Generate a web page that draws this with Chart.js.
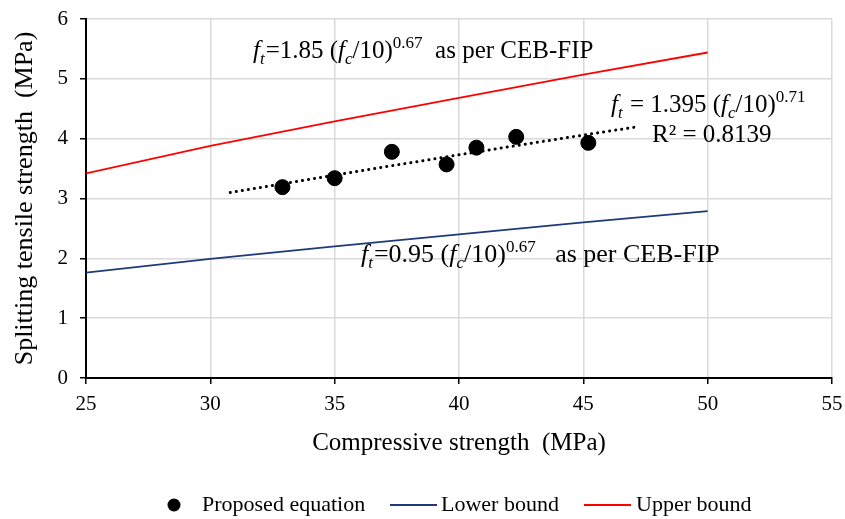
<!DOCTYPE html>
<html>
<head>
<meta charset="utf-8">
<script src="https://cdn.jsdelivr.net/npm/chart.js@4/dist/chart.umd.min.js"></script>
<style>
  html, body { margin: 0; padding: 0; background: #fff; }
  #wrap { width: 845px; height: 519px; }
</style>
</head>
<body>
<div id="wrap"><canvas id="chart"></canvas></div>
<script>
// measured points
const strengthX = [32.9, 35.0, 37.3, 39.5, 40.7, 42.3, 45.2];
const tensileY = [3.19, 3.34, 3.78, 3.57, 3.85, 4.03, 3.93];

// CEB-FIP bounds
const boundX = [25, 30, 35, 40, 45, 50];
const lowerY = [1.76, 1.99, 2.20, 2.40, 2.60, 2.79];
const upperY = [3.42, 3.88, 4.29, 4.68, 5.07, 5.44];

// dotted power trendline
const trendX = [30.8, 35, 40, 45, 47.2];
const trendY = [3.10, 3.39, 3.73, 4.06, 4.20];

const xTicks = [25, 30, 35, 40, 45, 50, 55];
const yTicks = [0, 1, 2, 3, 4, 5, 6];

const FONT = "'Liberation Serif', 'Times New Roman', serif";
const pairs = (xs, ys) => xs.map((x, i) => ({ x, y: ys[i] }));

// draws a run of text pieces: italic, subscript, superscript
function richText(ctx, x, y, parts, size) {
  let cx = x;
  parts.forEach((p) => {
    const small = p.sub || p.sup;
    const fs = small ? Math.round(size * 0.66) : size;
    ctx.font = (p.i ? 'italic ' : '') + fs + 'px ' + FONT;
    let dy = 0;
    if (p.sub) dy = size * 0.24;
    if (p.sup) dy = -size * 0.4;
    ctx.fillText(p.t, cx, y + dy);
    cx += ctx.measureText(p.t).width + (p.gap || 0);
  });
}

const notes = {
  id: 'notes',
  afterDatasetsDraw(chart) {
    const ctx = chart.ctx;
    ctx.save();
    ctx.fillStyle = '#000';
    ctx.textBaseline = 'alphabetic';
    ctx.textAlign = 'left';
    richText(ctx, 253, 58, [
      { t: 'f', i: true }, { t: 't', i: true, sub: true, gap: 1 },
      { t: '=1.85 (' }, { t: 'f', i: true }, { t: 'c', i: true, sub: true },
      { t: '/10)' }, { t: '0.67', sup: true }, { t: '  as per CEB-FIP' }
    ], 25);
    richText(ctx, 361, 262, [
      { t: 'f', i: true }, { t: 't', i: true, sub: true, gap: 1 },
      { t: '=0.95 (' }, { t: 'f', i: true }, { t: 'c', i: true, sub: true },
      { t: '/10)' }, { t: '0.67', sup: true }, { t: '   as per CEB-FIP' }
    ], 26);
    richText(ctx, 611, 112, [
      { t: 'f', i: true }, { t: 't', i: true, sub: true, gap: 1 },
      { t: ' = 1.395 (' }, { t: 'f', i: true }, { t: 'c', i: true, sub: true },
      { t: '/10)' }, { t: '0.71', sup: true }
    ], 25);
    ctx.font = '25px ' + FONT;
    ctx.fillText('R\u00b2 = 0.8139', 652, 142);

    // legend
    ctx.font = '22px ' + FONT;
    ctx.textBaseline = 'middle';
    const ly = 505;
    ctx.beginPath();
    ctx.arc(174, ly, 6.5, 0, Math.PI * 2);
    ctx.fill();
    ctx.fillText('Proposed equation', 202, ly);
    ctx.lineWidth = 2;
    ctx.strokeStyle = '#1f3a78';
    ctx.beginPath(); ctx.moveTo(390, ly); ctx.lineTo(437, ly); ctx.stroke();
    ctx.fillText('Lower bound', 441, ly);
    ctx.strokeStyle = '#ff0000';
    ctx.beginPath(); ctx.moveTo(584, ly); ctx.lineTo(631, ly); ctx.stroke();
    ctx.fillText('Upper bound', 636, ly);
    ctx.restore();
  }
};

new Chart(document.getElementById('chart'), {
  type: 'scatter',
  data: {
    datasets: [
      {
        label: 'Upper bound',
        data: pairs(boundX, upperY),
        showLine: true,
        borderColor: '#ff0000',
        borderWidth: 1.8,
        pointRadius: 0
      },
      {
        label: 'Lower bound',
        data: pairs(boundX, lowerY),
        showLine: true,
        borderColor: '#1f3a78',
        borderWidth: 1.8,
        pointRadius: 0
      },
      {
        label: 'Trend',
        data: pairs(trendX, trendY),
        showLine: true,
        borderColor: '#000',
        borderWidth: 3,
        borderDash: [0.1, 6],
        borderCapStyle: 'round',
        cubicInterpolationMode: 'monotone',
        pointRadius: 0
      },
      {
        label: 'Proposed equation',
        data: pairs(strengthX, tensileY),
        backgroundColor: '#000',
        borderColor: '#000',
        pointRadius: 7.5,
        pointHoverRadius: 7.5
      }
    ]
  },
  options: {
    responsive: true,
    maintainAspectRatio: false,
    animation: false,
    layout: { padding: { left: 0, right: 13, top: 19, bottom: 49 } },
    plugins: {
      legend: { display: false },
      tooltip: { enabled: false }
    },
    scales: {
      x: {
        type: 'linear',
        min: 25,
        max: 55,
        afterBuildTicks: (s) => { s.ticks = xTicks.map((v) => ({ value: v })); },
        afterFit: (s) => {
          s.height = 92;
          s.paddingLeft = 0;
          s.paddingRight = 0;
        },
        grid: { color: '#d9d9d9', lineWidth: 1.5, tickColor: '#000', tickLength: 6 },
        border: { color: '#000', width: 2 },
        ticks: { color: '#000', font: { family: FONT, size: 21 }, padding: 8 },
        title: {
          display: true,
          text: 'Compressive strength  (MPa)',
          color: '#000',
          font: { family: FONT, size: 25 },
          padding: { top: 4, bottom: 12 }
        }
      },
      y: {
        min: 0,
        max: 6,
        afterBuildTicks: (s) => { s.ticks = yTicks.map((v) => ({ value: v })); },
        afterFit: (s) => {
          s.width = 86;
          s.paddingTop = 0;
          s.paddingBottom = 0;
        },
        grid: { color: '#d9d9d9', lineWidth: 1.5, tickColor: '#000', tickLength: 6 },
        border: { color: '#000', width: 2 },
        ticks: { color: '#000', font: { family: FONT, size: 21 }, padding: 12 },
        title: {
          display: true,
          text: 'Splitting tensile strength  (MPa)',
          color: '#000',
          font: { family: FONT, size: 26 },
          padding: { top: 10, bottom: 8 }
        }
      }
    }
  },
  plugins: [notes]
});
</script>
</body>
</html>
